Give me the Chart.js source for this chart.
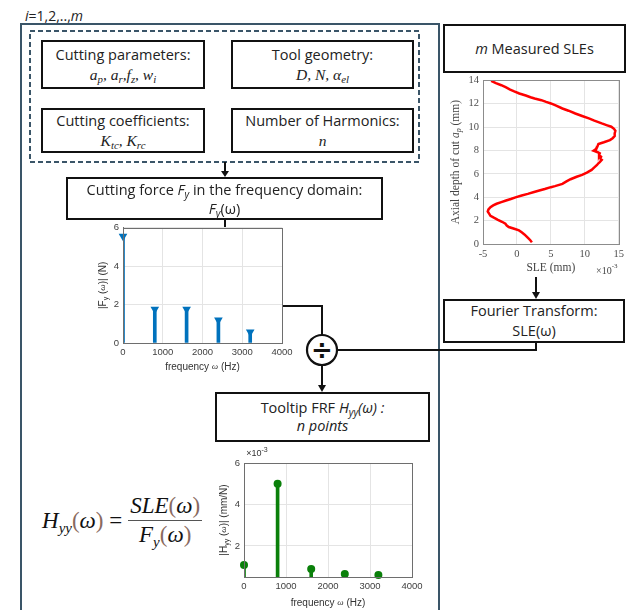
<!DOCTYPE html>
<html>
<head>
<meta charset="utf-8">
<script src="https://cdn.jsdelivr.net/npm/chart.js@4.4.1/dist/chart.umd.min.js"></script>
<style>
  body { margin: 0; width: 629px; height: 610px; overflow: hidden; background: #fff; position: relative; font-family: "Open Sans", sans-serif; color: #222; }
  .box { position: absolute; box-sizing: border-box; border: 2px solid #111; background: #fff; display: flex; flex-direction: column; align-items: center; justify-content: center; font-size: 14.5px; line-height: 20px; z-index: 2; }
  .m { font-family: "Liberation Serif", serif; font-style: italic; font-size: 15.5px; }
  sub { font-size: 70%; line-height: 0; vertical-align: -0.3em; }
  canvas { position: absolute; z-index: 1; }
  svg { position: absolute; left: 0; top: 0; z-index: 0; }
  #iter { position: absolute; left: 25px; top: 6px; font-size: 14px; }
  #formula { position: absolute; left: 42px; top: 493px; font-family: "Liberation Serif", serif; font-size: 23px; display: flex; align-items: center; color: #111; }
  #formula .par { color: #8a6a60; font-style: normal; }
  #formula sub { font-size: 65%; vertical-align: -0.35em; }
  .frac { display: inline-flex; flex-direction: column; align-items: center; margin-left: 6px; }
  .frac .num { border-bottom: 1.5px solid #555; padding: 0 2px 1px; }
  .frac .den { padding-top: 1px; }
</style>
</head>
<body>

<div id="iter"><i>i</i>=1,2,..,<i>m</i></div>

<svg width="629" height="610">
  <rect x="21" y="24" width="418" height="600" fill="none" stroke="#3a5568" stroke-width="2"/>
  <rect x="30" y="31" width="389" height="131" fill="none" stroke="#3a5568" stroke-width="2" stroke-dasharray="5 3"/>
  <g stroke="#111" stroke-width="2" fill="none">
    <line x1="225" y1="162" x2="225" y2="172"/>
    <line x1="225" y1="220" x2="225" y2="227"/>
    <polyline points="282,306 322,306 322,335"/>
    <line x1="322" y1="365" x2="322" y2="386"/>
    <polyline points="337,350 536,350 536,343"/>
    <line x1="536" y1="277" x2="536" y2="293"/>
  </g>
  <g fill="#111">
    <polygon points="221,171 229,171 225,177"/>
    <polygon points="318,385 326,385 322,392"/>
    <polygon points="532,292 540,292 536,299"/>
  </g>
  <circle cx="322" cy="350" r="15" fill="#fff" stroke="#111" stroke-width="2.2"/>
  <text x="322" y="351" text-anchor="middle" dominant-baseline="middle" font-family="DejaVu Sans" font-weight="bold" font-size="26" fill="#111">÷</text>
</svg>

<div class="box" style="left:41px;top:40px;width:164px;height:49px;">
  <div>Cutting parameters:</div>
  <div class="m">a<sub>p</sub>, a<sub>r</sub>,f<sub>z</sub>, w<sub>i</sub></div>
</div>
<div class="box" style="left:231px;top:40px;width:183px;height:49px;">
  <div>Tool geometry:</div>
  <div class="m">D, N, α<sub>el</sub></div>
</div>
<div class="box" style="left:41px;top:108px;width:164px;height:45px;">
  <div>Cutting coefficients:</div>
  <div class="m">K<sub>tc</sub>, K<sub>rc</sub></div>
</div>
<div class="box" style="left:231px;top:108px;width:183px;height:45px;">
  <div>Number of Harmonics:</div>
  <div class="m">n</div>
</div>
<div class="box" style="left:66px;top:177px;width:317px;height:43px;line-height:19px;">
  <div>Cutting force <i>F<sub>y</sub></i> in the frequency domain:</div>
  <div><i>F<sub>y</sub></i>(ω)</div>
</div>
<div class="box" style="left:215px;top:392px;width:215px;height:50px;line-height:18px;">
  <div>Tooltip FRF <i>H<sub>yy</sub>(ω) :</i></div>
  <div><i>n points</i></div>
</div>
<div class="box" style="left:443px;top:24px;width:183px;height:49px;">
  <div><i>m</i> Measured SLEs</div>
</div>
<div class="box" style="left:443px;top:299px;width:182px;height:44px;line-height:20px;">
  <div>Fourier Transform:</div>
  <div>SLE(ω)</div>
</div>

<div id="formula">
  <span><i>H</i><sub><i>yy</i></sub><span class="par">(</span><i>ω</i><span class="par">)</span>&nbsp;=</span>
  <span class="frac">
    <span class="num"><i>SLE</i><span class="par">(</span><i>ω</i><span class="par">)</span></span>
    <span class="den"><i>F</i><sub><i>y</i></sub><span class="par">(</span><i>ω</i><span class="par">)</span></span>
  </span>
</div>

<canvas id="force" width="205" height="159" style="left:93px;top:218px;"></canvas>
<canvas id="sle" width="182" height="210" style="left:446px;top:70px;"></canvas>
<canvas id="frf" width="214" height="168" style="left:214px;top:445px;"></canvas>

<script>
// cutting force harmonics
const forceFreq = [0, 800, 1600, 2400, 3200];
const forceAmp = [5.55, 1.75, 1.75, 1.2, 0.57];
const forceYTicks = [0, 2, 4, 6];

// tooltip FRF at the same harmonics (x10^-3 mm/N)
const frfFreq = [0, 800, 1600, 2400, 3200];
const frfAmp = [1.08, 5.0, 0.88, 0.64, 0.6];
const frfYTicks = [2, 4, 6];

const freqTicks = [0, 1000, 2000, 3000, 4000];

// measured SLE profile: depth (mm) and SLE (x10^-3 mm)
const sleDepth = [13.95, 13.75, 13.58, 13.4, 13.21, 13.05, 12.87, 12.7, 12.55, 12.44, 12.3, 12.15, 12.02, 11.85, 11.59, 11.4, 11.16, 10.95, 10.74, 10.55,
  10.31, 10.15, 10.03, 9.85, 9.69, 9.45, 9.23, 9.05, 8.89, 8.7, 8.55, 8.4, 8.27, 8.1, 7.98, 7.85, 7.75, 7.6, 7.47, 7.3,
  7.19, 7.0, 6.9, 6.76, 6.55, 6.34, 6.1, 5.91, 5.75, 5.54, 5.35, 5.14, 4.95, 4.86, 4.7, 4.57, 4.43, 4.29, 4.15, 4.01,
  3.85, 3.72, 3.58, 3.44, 3.3, 3.15, 2.95, 2.78, 2.6, 2.41, 2.25, 2.07, 1.9, 1.73, 1.58, 1.45, 1.3, 1.16, 1.0, 0.82,
  0.65, 0.48, 0.3, 0.14];
const sleValue = [-3.8, -3.1, -2.3, -1.6, -1.0, -0.4, 0.35, 1.3, 2.0, 2.6, 3.6, 4.3, 5.0, 5.7, 6.7, 7.6, 8.6, 9.6, 10.6, 11.4,
  12.5, 13.3, 13.9, 14.3, 14.5, 14.4, 14.4, 14.1, 13.7, 12.8, 12.0, 11.9, 11.8, 11.6, 11.3, 11.9, 12.2, 12.1, 12.4, 12.3,
  12.5, 12.2, 12.0, 11.8, 11.4, 11.0, 10.3, 9.6, 8.8, 7.9, 7.3, 6.7, 5.6, 5.0, 4.1, 3.3, 2.4, 1.6, 0.7, -0.1,
  -0.9, -1.6, -2.3, -3.0, -3.5, -3.9, -4.2, -4.3, -4.1, -3.9, -3.4, -2.8, -2.2, -1.7, -1.5, -1.2, -0.4, 0.3, 0.7, 1.1,
  1.4, 1.7, 2.0, 2.2];
const sleXTicks = [-5, 0, 5, 10, 15];
const sleYTicks = [0, 2, 4, 6, 8, 10, 12, 14];

const SANS = '"Liberation Sans", Arial, sans-serif';
const SERIF = '"Liberation Serif", "Times New Roman", serif';

// draws a line of mixed-font text centred on (cx, cy)
function drawRich(ctx, parts, cx, cy, rot, color) {
  ctx.save();
  ctx.translate(cx, cy);
  if (rot) ctx.rotate(rot);
  ctx.textBaseline = 'middle';
  ctx.textAlign = 'left';
  let total = 0;
  parts.forEach(p => { ctx.font = p[1]; p.w = ctx.measureText(p[0]).width; total += p.w; });
  let x = -total / 2;
  parts.forEach(p => {
    ctx.font = p[1];
    ctx.fillStyle = color;
    ctx.fillText(p[0], x, p[2] || 0);
    x += p.w;
  });
  ctx.restore();
}

const matlabAxes = {
  id: 'matlabAxes',
  afterDraw(chart, args, o) {
    const { ctx, chartArea: a } = chart;
    ctx.save();
    ctx.strokeStyle = o.frame;
    ctx.lineWidth = 1;
    ctx.strokeRect(Math.round(a.left) + 0.5, Math.round(a.top) + 0.5, Math.round(a.right - a.left), Math.round(a.bottom - a.top));
    ctx.restore();
    drawRich(ctx, o.xTitle, (a.left + a.right) / 2, a.bottom + o.xGap, 0, o.color);
    drawRich(ctx, o.yTitle, a.left - o.yGap, (a.top + a.bottom) / 2, -Math.PI / 2, o.color);
    if (o.exp) drawRich(ctx, o.exp.parts, o.exp.left ? a.left + o.exp.dx : a.right + o.exp.dx, o.exp.top ? a.top + o.exp.dy : a.bottom + o.exp.dy, 0, o.color);
  }
};

function axisOpts(min, max, ticks, font, color, fit) {
  return {
    type: 'linear', min: min, max: max, offset: false,
    afterBuildTicks: s => { s.ticks = ticks.map(v => ({ value: v })); },
    afterFit: fit,
    grid: { color: '#e4e4e4', drawTicks: false, offset: false },
    border: { color: '#6e6e6e' },
    ticks: { font: font, color: color, padding: 4, maxRotation: 0, autoSkip: false, callback: v => String(v) }
  };
}

function stemChart(id, freq, amp, color, marker, yMin, yMax, yTicks, padTop, titles) {
  const pts = freq.map((f, i) => ({ x: f, y: amp[i] }));
  const tickFont = { family: SANS, size: 9.5 };
  return new Chart(document.getElementById(id), {
    type: 'bar',
    data: {
      datasets: [
        { type: 'bar', data: pts, backgroundColor: color, barThickness: 3, grouped: false },
        { type: 'line', data: pts, showLine: false, pointStyle: marker.style, rotation: marker.rot,
          pointRadius: marker.r, pointBackgroundColor: color, pointBorderColor: color, pointBorderWidth: 0, clip: false }
      ]
    },
    options: {
      responsive: false, animation: false, devicePixelRatio: 1,
      layout: { padding: { top: padTop, right: 16, left: 0, bottom: 0 } },
      scales: {
        x: axisOpts(0, 4000, freqTicks, tickFont, '#404040', s => { s.height = titles.xh; }),
        y: axisOpts(yMin, yMax, yTicks, tickFont, '#404040', s => { s.width = 30; })
      },
      plugins: {
        legend: { display: false }, tooltip: { enabled: false },
        matlabAxes: Object.assign({ frame: '#6e6e6e', color: '#333' }, titles)
      }
    },
    plugins: [matlabAxes]
  });
}

const f10 = '10px ' + SANS;
const f7 = '7px ' + SANS;
const fw = 'italic 9px ' + SERIF;

stemChart('force', forceFreq, forceAmp, '#0072BD', { style: 'triangle', rot: 180, r: 5 }, 0, 6, forceYTicks, 9, {
  xh: 34, xGap: 24, yGap: 20,
  xTitle: [['frequency ', f10], ['ω', fw], [' (Hz)', f10]],
  yTitle: [['|F', f10], ['y', f7, 3], [' (', f10], ['ω', fw], [')| (N)', f10]]
});

stemChart('frf', frfFreq, frfAmp, '#0a800a', { style: 'circle', rot: 0, r: 4 }, 0.5, 6, frfYTicks, 18, {
  xh: 36, xGap: 26, yGap: 20,
  xTitle: [['frequency ', f10], ['ω', fw], [' (Hz)', f10]],
  yTitle: [['|H', f10], ['yy', f7, 3], [' (', f10], ['ω', fw], [')| (mm/N)', f10]],
  exp: { left: true, top: true, dx: 13, dy: -9, parts: [['×10', '9px ' + SANS], ['-3', '7px ' + SANS, -4]] }
});

// measured SLE curve
const serifTick = { family: SERIF, size: 10.5 };
const fs11 = '11.5px ' + SERIF;
new Chart(document.getElementById('sle'), {
  type: 'scatter',
  data: {
    datasets: [{
      data: sleValue.map((v, i) => ({ x: v, y: sleDepth[i] })),
      showLine: true, borderColor: '#ff0000', borderWidth: 2.5, pointRadius: 0, tension: 0
    }]
  },
  options: {
    responsive: false, animation: false, devicePixelRatio: 1,
    layout: { padding: { top: 10, right: 8, left: 0, bottom: 0 } },
    scales: {
      x: axisOpts(-5, 15, sleXTicks, serifTick, '#4d4d4d', s => { s.height = 36; }),
      y: axisOpts(0, 14, sleYTicks, serifTick, '#4d4d4d', s => { s.width = 37; })
    },
    plugins: {
      legend: { display: false }, tooltip: { enabled: false },
      matlabAxes: {
        frame: '#8c8c8c', color: '#444', xGap: 24, yGap: 27,
        xTitle: [['SLE (mm)', fs11]],
        yTitle: [['Axial depth of cut ', fs11], ['a', 'italic 11.5px ' + SERIF], ['p', 'italic 8px ' + SERIF, 3], [' (mm)', fs11]],
        exp: { left: false, top: false, dx: -12, dy: 27, parts: [['×10', '10px ' + SERIF], ['-3', '7px ' + SERIF, -5]] }
      }
    }
  },
  plugins: [matlabAxes]
});
</script>
</body>
</html>
